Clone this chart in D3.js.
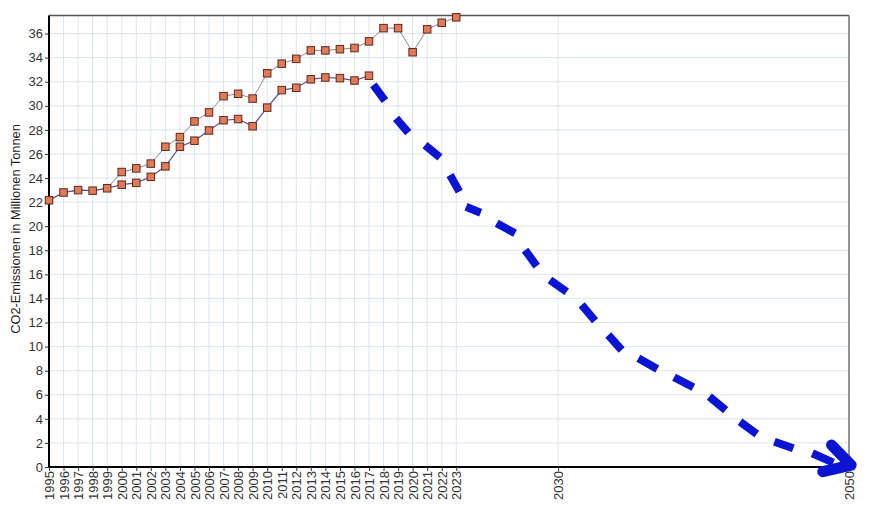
<!DOCTYPE html>
<html><head><meta charset="utf-8">
<script src="https://cdn.jsdelivr.net/npm/d3@7"></script>
<style>
html,body{margin:0;padding:0;background:#fff;}
svg{display:block;font-family:Arial,"Liberation Sans",sans-serif;}
</style></head>
<body><svg id="c" width="873" height="521"></svg>
<script>
// ---- data ----
const yearsA = [1995,1996,1997,1998,1999,2000,2001,2002,2003,2004,2005,2006,2007,2008,2009,2010,2011,2012,2013,2014,2015,2016,2017,2018,2019,2020,2021,2022,2023];
const valuesA = [22.15,22.8,23.0,22.95,23.15,24.5,24.8,25.2,26.6,27.4,28.7,29.45,30.8,31.0,30.6,32.7,33.5,33.9,34.6,34.6,34.7,34.8,35.35,36.45,36.45,34.45,36.35,36.9,37.35];
const yearsB = [1995,1996,1997,1998,1999,2000,2001,2002,2003,2004,2005,2006,2007,2008,2009,2010,2011,2012,2013,2014,2015,2016,2017];
const valuesB = [22.15,22.8,23.0,22.95,23.15,23.45,23.6,24.1,24.97,26.6,27.1,27.95,28.8,28.9,28.3,29.85,31.3,31.5,32.2,32.35,32.3,32.1,32.5];
// projection dashes (start/end pairs)
const projYears = [2017.3,2018.1, 2018.86,2019.7, 2020.85,2021.88, 2022.57,2023.21, 2023.67,2024.68, 2025.78,2027.04, 2027.73,2028.53, 2029.44,2030.59, 2031.62,2032.54, 2033.45,2034.37, 2035.52,2036.82, 2037.97,2039.3, 2040.4,2041.52, 2042.51,2043.66, 2044.87,2046.17, 2047.48,2048.92];
const projValues = [31.73,30.42, 28.96,27.77, 26.74,25.72, 24.25,22.87, 21.62,21.12, 20.24,19.41, 18.02,16.69, 15.53,14.56, 13.46,12.15, 10.96,9.72, 9.03,8.14, 7.45,6.62, 5.84,4.73, 3.76,2.74, 2.10,1.55, 1.14,0.36];
const arrowYears = [2048.8,2050.15,2048.2];
const arrowValues = [1.83,0.15,-0.39];
const xTicks = yearsA.concat([2030,2050]);
const yTicks = d3.range(0,37,2);

// ---- layout ----
const L=49, R=849, T=15.5, B=467;
const svg = d3.select('#c');
const x = d3.scaleLinear().domain([1995,2050]).range([L,R]);
const y = d3.scaleLinear().domain([0,37.5]).range([B,T]);

// grid
const g = svg.append('g');
g.selectAll('line.vg').data(xTicks).enter().append('line')
  .attr('x1',d=>x(d)).attr('x2',d=>x(d)).attr('y1',T).attr('y2',B)
  .attr('stroke','#dbe6ee').attr('stroke-width',1);
g.selectAll('line.hg').data(yTicks.filter(d=>d>0)).enter().append('line')
  .attr('x1',L).attr('x2',R).attr('y1',d=>y(d)).attr('y2',d=>y(d))
  .attr('stroke','#dbe6ee').attr('stroke-width',1);

// frame top/right
svg.append('line').attr('x1',L).attr('x2',R).attr('y1',T).attr('y2',T).attr('stroke','#555').attr('stroke-width',1.5);
svg.append('line').attr('x1',R).attr('x2',R).attr('y1',T).attr('y2',B).attr('stroke','#555').attr('stroke-width',1.2);

// axes
const yAxis = svg.append('g').attr('transform',`translate(${L},0)`)
  .call(d3.axisLeft(y).tickValues(yTicks).tickSize(4).tickPadding(2).tickSizeOuter(0));
yAxis.select('.domain').attr('stroke','#000').attr('stroke-width',2).attr('d',`M0,${T}V${B}`);
yAxis.selectAll('.tick line').attr('stroke','#333');
yAxis.selectAll('.tick text').attr('font-size',13).attr('fill','#333').attr('font-family','Arial,"Liberation Sans",sans-serif');

const xAxis = svg.append('g').attr('transform',`translate(0,${B})`)
  .call(d3.axisBottom(x).tickValues(xTicks).tickFormat(d3.format('d')).tickSize(4).tickSizeOuter(0));
xAxis.select('.domain').attr('stroke','#000').attr('stroke-width',2).attr('d',`M${L},0H${R}`);
xAxis.selectAll('.tick line').attr('stroke','#333');
xAxis.selectAll('.tick text')
  .attr('font-size',13).attr('fill','#333').attr('font-family','Arial,"Liberation Sans",sans-serif')
  .attr('transform','rotate(-90)').attr('text-anchor','end')
  .attr('x',-4).attr('y',0).attr('dy','0.35em');

// y label
svg.append('text').attr('transform','translate(20,229) rotate(-90)')
  .attr('text-anchor','middle').attr('font-size',12.8).attr('fill','#222')
  .text('CO2-Emissionen in Millionen Tonnen');

// series lines
const line = d3.line().x(d=>x(d[0])).y(d=>y(d[1]));
const dA = yearsA.map((yr,i)=>[yr,valuesA[i]]);
const dB = yearsB.map((yr,i)=>[yr,valuesB[i]]);
svg.append('path').attr('d',line(dA)).attr('fill','none').attr('stroke','#8a8a8a').attr('stroke-width',1);
svg.append('path').attr('d',line(dB)).attr('fill','none').attr('stroke','#5a4c9c').attr('stroke-width',1.2);

// projection dashes
let pd='';
for(let i=0;i<projYears.length;i+=2){
  pd += `M${x(projYears[i])},${y(projValues[i])}L${x(projYears[i+1])},${y(projValues[i+1])}`;
}
svg.append('path').attr('d',pd).attr('fill','none').attr('stroke','#0a14d2').attr('stroke-width',8).attr('stroke-linecap','butt');
const ad = arrowYears.map((yr,i)=>[yr,arrowValues[i]]);
svg.append('path').attr('d',line(ad)).attr('fill','none').attr('stroke','#0a14d2').attr('stroke-width',11).attr('stroke-linecap','round').attr('stroke-linejoin','round');

// markers
const ms=7.5;
function markers(data){
  svg.append('g').selectAll('rect').data(data).enter().append('rect')
    .attr('x',d=>x(d[0])-ms/2).attr('y',d=>y(d[1])-ms/2).attr('width',ms).attr('height',ms)
    .attr('fill','#e07a58').attr('stroke','#5e2a1c').attr('stroke-width',1);
}
markers(dA);
markers(dB.slice(5));
</script></body></html>
